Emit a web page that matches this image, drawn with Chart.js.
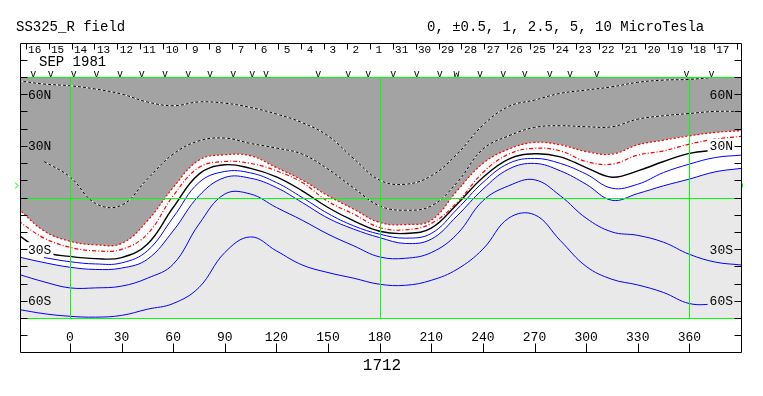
<!DOCTYPE html>
<html>
<head>
<meta charset="utf-8">
<script src="https://cdn.jsdelivr.net/npm/chart.js@4"></script>
<style>
  html, body { margin: 0; padding: 0; background: #fff; }
  #wrap { width: 763px; height: 396px; }
</style>
</head>
<body>
<div id="wrap"><canvas id="fieldChart" width="763" height="396"></canvas></div>
<script>
// 经度采样点（卡林顿经度）
const LON = [-30, -15, 0, 15, 30, 45, 60, 75, 90, 105, 120, 135, 150, 165, 180,
  195, 210, 225, 240, 255, 270, 285, 300, 315, 330, 345, 360, 375, 390];

// 各等值线的纬度
const L1 = [67.8, 65.9, 64.9, 63.0, 60.1, 55.5, 53.3, 55.5, 54.8, 52.3, 48.5, 43.5, 35.8, 22.5, 10.1,
  7.7, 12.6, 25.2, 42.0, 52.9, 56.6, 60.5, 62.4, 64.3, 66.9, 68.2, 68.6, 69.8, 70.3];
const L2 = [null, 20.9, 12.0, -3.5, -4.5, 10.7, 25.2, 32.9, 34.5, 31.4, 28.7, 25.2, 16.5, 5.5, -4.9,
  -7.4, -4.9, 8.7, 28.1, 35.8, 40.7, 41.7, 41.1, 41.1, 45.5, 47.5, 48.8, 50.0, 50.0];
const R1 = [-6.5, -19.4, -25.4, -27.5, -26.7, -13.6, 5.8, 21.7, 24.8, 24.2, 17.4, 10.1, 1.0, -6.8, -14.5,
  -15.7, -13.2, 3.9, 19.8, 28.1, 32.0, 30.6, 26.7, 25.2, 30.6, 33.3, 35.8, 37.8, 38.8];
const R2 = [-13.6, -23.6, -28.9, -31.0, -30.1, -21.3, 1.0, 17.4, 20.9, 19.8, 15.5, 8.7, -2.3, -9.7, -17.4,
  -18.8, -15.1, -2.9, 14.5, 25.2, 28.6, 27.1, 20.9, 19.4, 24.6, 27.1, 31.0, 33.9, 35.5];
const K0 = [-21.7, -31.6, -34.2, -35.5, -34.9, -27.1, -5.8, 13.6, 19.0, 16.9, 12.0, 3.9, -5.8, -13.6, -19.6,
  -20.9, -17.8, -3.9, 11.6, 22.3, 25.4, 23.6, 17.4, 11.8, 15.5, 20.9, 25.6, 27.5, 29.0];
const B1 = [null, -34.9, -37.3, -38.6, -38.0, -31.0, -11.6, 8.7, 15.1, 14.3, 8.7, 0.0, -9.3, -16.5, -21.3,
  -23.6, -20.9, -6.8, 8.7, 19.8, 22.7, 19.8, 13.6, 5.4, 7.7, 14.5, 19.4, 23.2, 24.6];
const B2 = [-34.5, -37.8, -40.5, -41.8, -41.0, -35.9, -19.4, 1.0, 11.6, 11.2, 5.8, -2.9, -12.0, -18.4, -23.3,
  -26.7, -24.2, -10.7, 4.8, 16.5, 19.8, 15.5, 7.7, -1.6, 2.3, 6.8, 10.7, 14.9, 16.9];
const B3 = [-44.6, -49.0, -52.5, -52.5, -51.5, -46.9, -38.8, -15.5, 2.0, 2.0, -5.8, -13.2, -21.3, -28.1, -34.5,
  -35.3, -32.0, -21.3, -1.9, 6.8, 10.3, 1.0, -12.0, -20.0, -22.0, -26.0, -33.0, -37.5, -39.2];
const B4 = [-65.0, -67.5, -69.0, -69.5, -68.5, -64.9, -61.6, -52.3, -32.0, -22.9, -31.0, -39.2, -43.6, -46.9, -50.4,
  -51.0, -48.1, -41.7, -30.0, -12.0, -10.0, -25.0, -40.0, -47.5, -50.8, -55.2, -61.6, -62.0, -62.0];

// 坐标轴刻度与标签
const X_TICKS = [0, 30, 60, 90, 120, 150, 180, 210, 240, 270, 300, 330, 360];
const LAT_TICKS = [-80, -70, -60, -50, -40, -30, -20, -10, 0, 10, 20, 30, 40, 50, 60, 70, 80];
const LAT_LABELS = [60, 30, -30, -60];
const GREEN_LON = [0, 180, 360];
const GREEN_LAT = [70, 0, -70];

// 日期条
const DAYS = [16, 15, 14, 13, 12, 11, 10, 9, 8, 7, 6, 5, 4, 3, 2, 1,
  31, 30, 29, 28, 27, 26, 25, 24, 23, 22, 21, 20, 19, 18, 17];
const DAY_LON0 = -25.7;
const DAY_STEP = 13.33;
const MARK_LON = [-21.3, -11.2, 2.3, 15.5, 29.1, 41.7, 55.2, 68.8, 81.4, 94.9, 106.0, 113.9,
  144.3, 161.7, 173.4, 187.9, 201.5, 215.0, 224.7, 238.3, 251.8, 264.4, 278.9, 290.6, 306.1, 358.4, 372.9];
const MARK_TXT = MARK_LON.map((v, i) => (i === 18 ? 'w' : 'v'));
const B0 = 7.2;

const MONO = '"Liberation Mono", "DejaVu Sans Mono", monospace';
const DARK = '#a3a3a3';
const LIGHT = '#e9e9e9';
const LEFT_BG = [DARK, DARK, '#ffffff', LIGHT];
const RIGHT_BG = [DARK, '#ffffff', LIGHT, LIGHT];

function line(vals, color, width, dash, extra) {
  return Object.assign({
    data: LON.map((lon, i) => ({ x: lon, y: vals[i] })),
    borderColor: color,
    borderWidth: width,
    borderDash: dash || [],
    pointRadius: 0,
    fill: false,
    tension: 0.4
  }, extra || {});
}

const latText = v => Math.abs(v) + (v > 0 ? 'N' : 'S');

// 绿线和纬度标签（画在等值线之上）
const overlayPlugin = {
  id: 'overlay',
  afterDatasetsDraw(chart) {
    const { ctx, chartArea: a, scales: { x, y } } = chart;
    ctx.save();
    ctx.strokeStyle = '#00ff00';
    ctx.lineWidth = 1;
    ctx.beginPath();
    GREEN_LON.forEach(v => {
      const px = Math.round(x.getPixelForValue(v)) + 0.5;
      ctx.moveTo(px, a.top); ctx.lineTo(px, a.bottom);
    });
    GREEN_LAT.forEach(v => {
      const py = Math.round(y.getPixelForValue(v)) + 0.5;
      ctx.moveTo(a.left, py); ctx.lineTo(a.right, py);
    });
    ctx.stroke();

    ctx.font = '13px ' + MONO;
    ctx.textBaseline = 'middle';
    LAT_LABELS.forEach((v, i) => {
      const py = y.getPixelForValue(v);
      const t = latText(v);
      const w = ctx.measureText(t).width;
      ctx.fillStyle = LEFT_BG[i];
      ctx.fillRect(a.left + 7, py - 7, w + 3, 14);
      ctx.fillStyle = RIGHT_BG[i];
      ctx.fillRect(a.right - w - 10, py - 7, w + 10, 14);
      ctx.fillStyle = '#000';
      ctx.textAlign = 'left';
      ctx.fillText(t, a.left + 8, py + 1);
      ctx.textAlign = 'right';
      ctx.fillText(t, a.right - 8, py + 1);
    });
    ctx.restore();
  },
  afterDraw(chart) {
    const { ctx, chartArea: a, scales: { x, y } } = chart;
    const top = Math.round(y.getPixelForValue(90)) + 0.5;
    const bot = Math.round(y.getPixelForValue(-90)) + 0.5;
    const l = a.left + 0.5, r = a.right + 0.5;
    ctx.save();
    ctx.strokeStyle = '#000';
    ctx.lineWidth = 1;
    ctx.beginPath();
    ctx.rect(l, top, r - l, bot - top);
    // 纬度刻度
    LAT_TICKS.forEach(v => {
      const py = Math.round(y.getPixelForValue(v)) + 0.5;
      ctx.moveTo(l, py); ctx.lineTo(l + 7, py);
      ctx.moveTo(r - 7, py); ctx.lineTo(r, py);
    });
    // 经度刻度
    X_TICKS.forEach(v => {
      const px = Math.round(x.getPixelForValue(v)) + 0.5;
      ctx.moveTo(px, bot); ctx.lineTo(px, bot - 9);
    });
    // 日期分隔
    DAYS.concat([0]).forEach((d, i) => {
      const px = Math.round(x.getPixelForValue(DAY_LON0 + i * DAY_STEP)) + 0.5;
      if (px < r - 2) { ctx.moveTo(px, top); ctx.lineTo(px, top + 6); }
    });
    ctx.stroke();

    ctx.fillStyle = '#000';
    ctx.textBaseline = 'middle';
    ctx.textAlign = 'center';
    ctx.font = '13px ' + MONO;
    X_TICKS.forEach(v => ctx.fillText(String(v), x.getPixelForValue(v), bot - 15));
    ctx.font = '11px ' + MONO;
    DAYS.forEach((d, i) => {
      ctx.fillText(String(d), x.getPixelForValue(DAY_LON0 + i * DAY_STEP) + 9, top + 7);
    });
    ctx.font = '10px ' + MONO;
    ctx.textBaseline = 'alphabetic';
    MARK_LON.forEach((v, i) => ctx.fillText(MARK_TXT[i], x.getPixelForValue(v), a.top));
    ctx.textBaseline = 'middle';
    ctx.font = '16px ' + MONO;
    ctx.fillText('1712', 382, 366);
    ctx.font = '14px ' + MONO;
    ctx.textAlign = 'left';
    ctx.fillText('SEP 1981', 39, 62.5);
    ctx.fillText('SS325_R field', 16, 27.5);
    ctx.fillText('0, \u00b10.5, 1, 2.5, 5, 10 MicroTesla', 427, 27.5);

    // 太阳 B0 角标记
    const pb = Math.round(y.getPixelForValue(B0)) + 0.5;
    ctx.strokeStyle = '#00ff00';
    ctx.beginPath();
    ctx.moveTo(15, pb - 3); ctx.lineTo(18, pb); ctx.lineTo(15, pb + 3);
    ctx.moveTo(r + 1, pb - 2); ctx.lineTo(r + 1, pb + 2);
    ctx.stroke();
    ctx.restore();
  }
};

new Chart(document.getElementById('fieldChart'), {
  type: 'line',
  data: {
    datasets: [
      line(L1, '#000000', 1, [3, 2]),
      line(L2, '#000000', 1, [3, 2]),
      line(L1, '#ffffff', 1),
      line(L2, '#ffffff', 1),
      line(R1, '#ff0000', 1.2, [2, 2], { fill: 'end', backgroundColor: DARK }),
      line(R2, '#ff0000', 1.2, [4, 2, 1, 2]),
      line(K0, '#000000', 1.4),
      line(B1, '#0000ff', 1),
      line(B2, '#0000ff', 1, [], { fill: 'start', backgroundColor: LIGHT }),
      line(B3, '#0000ff', 1),
      line(B4, '#0000ff', 1)
    ]
  },
  options: {
    responsive: false,
    animation: false,
    events: [],
    layout: { padding: { left: 20, right: 22, top: 77, bottom: 78 } },
    scales: {
      x: { type: 'linear', min: -29, max: 390, display: false },
      y: { type: 'linear', min: -70, max: 70, display: false }
    },
    plugins: {
      legend: { display: false },
      tooltip: { enabled: false },
      filler: { drawTime: 'beforeDatasetsDraw' }
    }
  },
  plugins: [overlayPlugin]
});
</script>
</body>
</html>
